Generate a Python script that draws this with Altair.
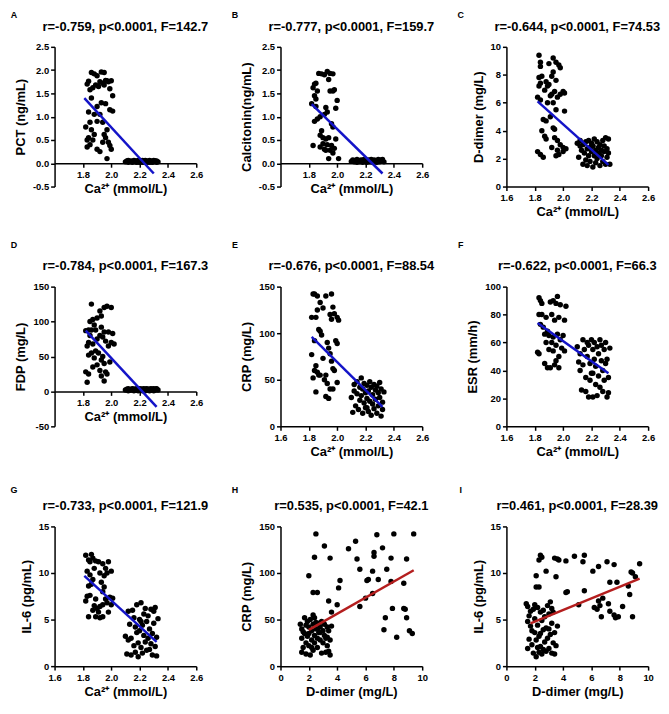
import altair as alt
import pandas as pd

FONT = "Liberation Sans"

# ---------------- data ----------------
CTRL_CA = [2.10, 2.11, 2.12, 2.12, 2.13, 2.14, 2.14, 2.15, 2.16, 2.16, 2.17, 2.17, 2.18, 2.18, 2.19,
           2.19, 2.20, 2.20, 2.21, 2.21, 2.22, 2.22, 2.23, 2.23, 2.24, 2.24, 2.25, 2.25, 2.26, 2.26,
           2.27, 2.27, 2.28, 2.28, 2.29, 2.29, 2.30, 2.30, 2.31, 2.31, 2.32, 2.32, 2.33, 2.21]

A_PAT = [(1.86, 1.95), (1.88, 1.92), (1.90, 1.88), (1.93, 1.96), (1.95, 1.95), (1.97, 1.77), (1.98, 1.75),
         (2.00, 1.77), (1.92, 1.75), (1.94, 1.72), (1.96, 1.78), (1.89, 1.68), (1.91, 1.65), (1.84, 1.76),
         (1.83, 1.70), (1.85, 1.58), (1.87, 1.62), (1.99, 1.60), (2.01, 1.45), (1.95, 1.68), (1.86, 1.40),
         (1.84, 1.10), (1.93, 1.30), (1.96, 1.28), (1.99, 1.15), (2.01, 1.12), (1.90, 1.22), (1.92, 1.05),
         (1.88, 1.05), (1.85, 0.88), (1.94, 0.88), (1.90, 0.90), (1.97, 0.72), (1.82, 0.78), (1.86, 0.72),
         (1.88, 0.62), (1.84, 0.55), (1.83, 0.50), (1.87, 0.50), (1.95, 0.62), (1.96, 0.55), (1.85, 0.40),
         (1.83, 0.35), (1.98, 0.45), (1.99, 0.38), (2.00, 0.30), (1.90, 0.30), (1.92, 0.25), (1.97, 0.10),
         (1.94, 0.45)]
A_CTRL_Y = [0.03, 0.05, 0.02, 0.06, 0.04, 0.03, 0.05, 0.02, 0.04, 0.06, 0.03, 0.05, 0.02, 0.04, 0.06,
            0.03, 0.05, 0.02, 0.04, 0.03, 0.06, 0.02, 0.05, 0.03, 0.04, 0.06, 0.02, 0.05, 0.03, 0.04,
            0.02, 0.06, 0.03, 0.05, 0.04, 0.02, 0.06, 0.03, 0.05, 0.04, 0.02, 0.05, 0.03, 0.04]
A_LINE_X = [1.81, 2.30]
A_LINE_Y = [1.40, -0.22]

B_PAT = [(1.87, 1.93), (1.89, 1.92), (1.91, 1.90), (1.93, 1.97), (1.95, 1.93), (1.97, 1.92), (1.84, 1.70),
         (1.85, 1.72), (1.83, 1.62), (1.86, 1.55), (1.94, 1.80), (1.95, 1.55), (1.97, 1.55), (1.98, 1.58),
         (1.84, 1.45), (1.85, 1.38), (2.00, 1.35), (1.82, 1.28), (1.85, 1.22), (1.92, 1.20), (1.99, 1.18),
         (1.91, 1.05), (1.93, 1.10), (1.88, 1.00), (1.84, 0.90), (1.86, 0.95), (1.96, 0.85), (1.97, 0.78),
         (1.89, 0.70), (1.90, 0.55), (1.88, 0.60), (1.92, 0.52), (1.94, 0.55), (1.99, 0.52), (1.90, 0.42),
         (1.88, 0.35), (1.93, 0.40), (1.96, 0.38), (1.98, 0.32), (1.92, 0.28), (1.95, 0.28), (1.97, 0.22),
         (1.83, 0.38), (1.94, 0.10), (2.01, 0.10), (1.91, 0.30)]
B_CTRL_Y = [0.04, 0.07, 0.03, 0.06, 0.05, 0.02, 0.08, 0.04, 0.06, 0.03, 0.05, 0.07, 0.02, 0.06, 0.04,
            0.08, 0.03, 0.05, 0.06, 0.02, 0.07, 0.04, 0.05, 0.03, 0.08, 0.06, 0.02, 0.05, 0.04, 0.07,
            0.03, 0.06, 0.05, 0.02, 0.08, 0.04, 0.06, 0.03, 0.07, 0.05, 0.04, 0.08, 0.03, 0.06]
B_LINE_X = [1.82, 2.32]
B_LINE_Y = [1.27, -0.22]

C_PAT = [(1.83, 9.4), (1.84, 8.9), (1.84, 8.6), (1.90, 8.8), (1.93, 9.2), (1.95, 8.9), (1.97, 8.7),
         (1.98, 8.5), (1.83, 7.8), (1.85, 7.9), (1.84, 7.4), (1.83, 7.2), (1.88, 7.5), (1.89, 7.2),
         (1.90, 7.3), (1.92, 7.9), (1.93, 8.2), (1.95, 7.6), (1.87, 6.9), (1.91, 6.5), (1.92, 6.6),
         (1.94, 6.8), (1.96, 6.4), (1.98, 6.6), (2.00, 6.8), (2.01, 6.7), (1.82, 6.4), (1.84, 6.2),
         (1.89, 6.0), (1.93, 6.0), (1.95, 5.5), (2.01, 5.4), (1.86, 4.8), (1.88, 4.7), (1.91, 5.0),
         (1.85, 4.0), (1.93, 4.2), (1.94, 4.1), (1.87, 3.6), (1.88, 3.4), (1.94, 3.5), (1.96, 3.3),
         (1.98, 3.0), (2.00, 2.8), (1.92, 2.8), (1.96, 2.6), (1.82, 2.5), (1.84, 2.3), (1.86, 2.1),
         (1.95, 2.2), (1.97, 2.3), (2.00, 2.5), (2.02, 2.7)]
C_CTRL_Y = [3.1, 2.1, 2.9, 3.3, 2.6, 1.6, 3.0, 2.4, 1.9, 3.2, 2.7, 1.5, 2.2, 3.3, 2.8, 1.8, 2.5, 3.1, 1.4,
            2.9, 2.2, 3.4, 2.6, 1.7, 2.0, 3.2, 2.8, 2.4, 1.5, 3.0, 2.6, 2.2, 3.3, 1.8, 2.9, 2.5, 1.6, 3.5,
            2.7, 2.1, 3.4, 2.4, 1.6, 2.9]
C_LINE_X = [1.82, 2.32]
C_LINE_Y = [6.1, 1.55]

D_PAT = [(1.86, 125), (1.95, 120), (1.97, 122), (2.00, 120), (1.92, 115), (1.90, 105), (1.87, 103),
         (1.85, 100), (1.93, 108), (1.88, 95), (1.82, 87), (1.84, 88), (1.86, 88), (1.89, 88), (1.93, 92),
         (1.95, 85), (1.98, 85), (2.01, 83), (1.92, 80), (1.85, 80), (1.90, 75), (1.94, 78), (1.84, 70),
         (1.83, 65), (1.87, 68), (1.96, 72), (2.00, 70), (2.02, 68), (1.98, 65), (1.89, 58), (1.86, 55),
         (1.84, 52), (1.91, 55), (1.94, 50), (1.95, 40), (1.93, 45), (1.88, 48), (1.90, 38), (1.87, 35),
         (1.92, 30), (1.96, 28), (1.82, 28), (1.84, 25), (1.93, 22), (1.97, 25), (1.95, 15), (1.83, 13),
         (1.99, 42)]
D_CTRL_Y = [2, 3, 1, 4, 2, 3, 2, 4, 1, 3, 2, 3, 4, 2, 1, 3, 2, 4, 3, 2, 1, 3, 4, 2, 3, 1, 2, 4, 3, 2,
            3, 1, 4, 2, 3, 2, 4, 1, 3, 2, 4, 3, 2, 3]
D_LINE_X = [1.82, 2.32]
D_LINE_Y = [87, -22]

E_PAT = [(1.83, 142), (1.84, 142), (1.86, 140), (1.92, 140), (1.96, 142), (1.88, 133), (1.90, 127),
         (1.86, 125), (1.97, 128), (1.98, 121), (1.95, 120), (1.82, 117), (1.85, 117), (1.96, 115),
         (2.00, 117), (2.01, 114), (1.87, 104), (1.88, 102), (1.89, 98), (1.84, 92), (1.93, 90), (1.99, 92),
         (2.00, 89), (1.94, 84), (1.90, 73), (1.95, 78), (1.96, 70), (1.82, 77), (1.85, 65), (1.84, 60),
         (1.86, 58), (1.87, 55), (1.83, 52), (1.88, 55), (1.92, 55), (1.97, 62), (1.98, 60), (1.91, 50),
         (1.93, 46), (1.95, 40), (1.97, 40), (2.00, 47), (1.85, 37), (1.92, 32), (1.94, 30)]
E_CTRL_Y = [31, 15, 45, 38, 22, 48, 35, 18, 42, 28, 52, 33, 14, 40, 25, 46, 36, 20, 44, 30, 16, 38, 27,
            48, 42, 12, 34, 24, 45, 19, 39, 29, 14, 43, 36, 22, 47, 31, 11, 40, 26, 18, 37, 20]
E_LINE_X = [1.82, 2.32]
E_LINE_Y = [96, 21]

F_PAT = [(1.83, 92), (1.84, 90), (1.85, 88), (1.93, 90), (1.96, 93), (1.98, 87), (2.02, 86), (1.95, 88),
         (1.91, 89), (1.83, 80), (1.85, 80), (1.88, 78), (1.92, 80), (1.94, 76), (1.97, 78), (2.01, 76),
         (1.84, 73), (1.86, 71), (1.89, 68), (1.87, 66), (1.90, 65), (1.93, 64), (1.96, 66), (1.98, 62),
         (2.00, 65), (1.88, 60), (1.92, 60), (1.95, 58), (1.99, 56), (2.01, 54), (1.90, 55), (1.93, 54),
         (1.82, 53), (1.83, 52), (1.97, 50), (1.95, 47), (1.87, 45), (1.89, 42), (1.91, 42), (1.94, 44),
         (1.97, 42)]
F_CTRL_Y = [57, 46, 40, 52, 26, 62, 44, 55, 35, 25, 60, 50, 21, 58, 45, 33, 62, 38, 55, 21, 48, 60, 30,
            43, 57, 22, 52, 36, 62, 28, 47, 58, 40, 25, 55, 33, 60, 45, 21, 48, 35, 24, 56, 38]
F_LINE_X = [1.82, 2.32]
F_LINE_Y = [74, 38]

G_PAT = [(1.82, 11.9), (1.84, 11.4), (1.86, 12.0), (1.85, 11.2), (1.87, 11.6), (1.89, 11.3), (1.91, 11.2),
         (1.94, 11.0), (1.96, 10.5), (1.98, 11.2), (2.00, 10.2), (1.88, 10.5), (1.83, 10.2), (1.85, 9.8),
         (1.92, 10.0), (1.95, 9.7), (1.97, 10.0), (1.87, 9.3), (1.84, 8.6), (1.86, 8.8), (1.93, 9.0),
         (1.95, 8.5), (1.83, 7.5), (1.82, 7.0), (1.85, 7.6), (1.89, 7.2), (1.94, 8.0), (1.96, 7.2),
         (1.99, 7.4), (2.01, 7.3), (1.88, 6.5), (1.90, 6.2), (1.92, 6.4), (1.94, 6.6), (1.97, 6.8),
         (1.87, 6.0), (1.91, 5.8), (1.98, 5.8), (2.00, 6.6), (1.84, 5.3), (1.89, 5.3), (1.92, 5.2),
         (1.94, 5.3)]
G_CTRL_Y = [3.2, 1.3, 5.9, 2.8, 4.5, 1.2, 3.0, 6.0, 2.2, 5.2, 1.5, 4.2, 3.6, 6.6, 2.5, 1.0, 5.0, 3.8, 6.8,
            2.0, 4.4, 1.4, 5.6, 3.3, 2.6, 6.2, 1.7, 4.8, 3.0, 5.4, 1.8, 4.0, 6.1, 2.4, 3.5, 1.2, 5.9, 4.6,
            2.1, 6.3, 3.1, 1.1, 5.1, 4.8]
G_LINE_X = [1.81, 2.32]
G_LINE_Y = [9.7, 2.6]

H_PTS = [(2.5, 142), (3.1, 129), (2.4, 117), (3.5, 116), (2.0, 97), (2.3, 79), (2.6, 79), (4.2, 92),
         (4.1, 84), (3.4, 70), (4.0, 66), (3.6, 58), (4.8, 126), (5.3, 134), (5.4, 115), (5.6, 104),
         (6.1, 92), (6.2, 93), (6.5, 102), (6.6, 122), (6.6, 118), (6.8, 141), (6.9, 93), (7.2, 127),
         (7.5, 104), (7.8, 116), (8.0, 142), (7.8, 91), (8.7, 89), (8.9, 115), (9.4, 142), (6.0, 73),
         (6.5, 78), (5.6, 64), (7.9, 62), (8.7, 62), (8.8, 61), (7.4, 52), (8.9, 52), (7.3, 39), (9.1, 38),
         (9.3, 35), (8.2, 31),
         (1.4, 45), (1.5, 40), (1.5, 30), (1.6, 20), (1.5, 15), (1.7, 52), (1.7, 35), (1.8, 25), (1.8, 13),
         (1.9, 48), (1.9, 32), (2.0, 42), (2.0, 22), (2.1, 50), (2.1, 12), (2.2, 38), (2.2, 28), (2.3, 55),
         (2.3, 45), (2.3, 17), (2.4, 33), (2.4, 25), (2.5, 47), (2.5, 40), (2.6, 30), (2.6, 20), (2.7, 46),
         (2.7, 36), (2.8, 42), (2.8, 28), (2.9, 48), (2.9, 14), (3.0, 38), (3.0, 25), (3.1, 45), (3.1, 33),
         (3.2, 30), (3.2, 15), (3.3, 42), (3.3, 22), (3.4, 38), (3.4, 16), (3.5, 12), (3.6, 43), (3.5, 28),
         (2.0, 35), (2.6, 40), (3.0, 47), (1.6, 37), (2.2, 20), (2.8, 36), (3.3, 31), (1.8, 44), (2.4, 52)]
H_LINE_X = [2.0, 9.4]
H_LINE_Y = [39, 103]

I_PTS = [(2.4, 11.9), (2.5, 11.7), (2.3, 11.4), (2.8, 10.2), (3.4, 11.6), (3.6, 11.5), (3.7, 11.4),
         (4.2, 11.3), (4.8, 11.8), (5.5, 11.9), (5.4, 11.2), (2.1, 9.7), (2.1, 8.5), (2.3, 8.5), (3.5, 9.6),
         (4.2, 7.9), (4.3, 8.0), (5.5, 8.1), (5.1, 6.6), (6.1, 10.2), (6.5, 10.7), (7.1, 11.2), (7.6, 10.9),
         (8.8, 10.1), (8.9, 10.0), (9.4, 11.0), (9.1, 9.6), (7.3, 9.0), (7.8, 9.0), (8.7, 7.7), (8.6, 8.6),
         (6.8, 7.3), (6.5, 7.0), (6.2, 6.3), (6.4, 6.1), (6.6, 6.5), (7.2, 6.7), (7.3, 5.9), (7.7, 5.2),
         (7.9, 5.3), (6.7, 5.3), (8.2, 6.4), (8.9, 5.3), (7.6, 5.5),
         (1.4, 6.7), (1.5, 6.4), (1.5, 4.8), (1.6, 2.9), (1.5, 1.9), (1.7, 5.9), (1.7, 4.3), (1.8, 2.3),
         (1.9, 1.4), (1.9, 6.1), (2.0, 5.1), (2.0, 3.6), (2.1, 1.0), (2.1, 2.8), (2.2, 6.3), (2.2, 4.4),
         (2.3, 1.5), (2.3, 3.2), (2.4, 5.8), (2.4, 2.1), (2.5, 4.9), (2.5, 1.3), (2.6, 3.9), (2.6, 6.0),
         (2.7, 2.6), (2.7, 5.3), (2.8, 1.6), (2.8, 4.1), (2.9, 6.5), (2.9, 3.0), (3.0, 1.9), (3.0, 5.6),
         (3.1, 6.9), (3.1, 3.4), (3.2, 1.4), (3.2, 4.6), (3.3, 2.5), (3.3, 5.8), (3.4, 3.6), (3.4, 1.3),
         (3.5, 2.2), (3.6, 4.3), (1.8, 3.8), (2.2, 2.0), (2.6, 1.8), (3.0, 4.0), (2.4, 3.5), (1.6, 5.4),
         (2.0, 6.6), (3.2, 6.2)]
I_LINE_X = [1.7, 9.4]
I_LINE_Y = [4.6, 9.4]

CA_TITLE = "Ca\u00b2\u207a (mmol/L)"
CA_TICKS_NEG = [1.8, 2.0, 2.2, 2.4, 2.6]
CA_TICKS = [1.6, 1.8, 2.0, 2.2, 2.4, 2.6]
DD_TICKS = [0, 2, 4, 6, 8, 10]

BLUE = "#1414c8"
RED = "#b41e1e"

W, H = 143, 141


def panel(letter, title, pts, line_x, line_y, xdom, ydom, xvals, yvals, xfmt, yfmt,
          xtitle, ytitle, color, ldx, ldy, tdy):
    off = -H * (-ydom[0]) / (ydom[1] - ydom[0]) if ydom[0] < 0 else 0
    df = pd.DataFrame(pts, columns=["x", "y"])
    xenc = alt.X("x:Q", scale=alt.Scale(domain=xdom, nice=False, zero=False),
                 axis=alt.Axis(values=xvals, tickCount=len(xvals), title=xtitle, offset=off,
                               labelOverlap=False, labelFlush=False,
                               labelExpr=f"replace(format(datum.value, '{xfmt}'), '\u2212', '-')"))
    yenc = alt.Y("y:Q", scale=alt.Scale(domain=ydom, nice=False, zero=False),
                 axis=alt.Axis(values=yvals, tickCount=len(yvals), title=ytitle,
                               labelOverlap=False, labelFlush=False,
                               labelExpr=f"replace(format(datum.value, '{yfmt}'), '\u2212', '-')"))
    p = alt.Chart(df).mark_circle(size=30, color="black", opacity=1).encode(x=xenc, y=yenc)
    ln = alt.Chart(pd.DataFrame({"x": line_x, "y": line_y})).mark_line(
        color=color, strokeWidth=2.5).encode(x="x:Q", y="y:Q")
    lab = alt.Chart(pd.DataFrame({"t": [letter]})).mark_text(
        font=FONT, fontSize=9, fontWeight="bold", align="center", baseline="middle", color="black"
    ).encode(text="t:N", x=alt.value(ldx), y=alt.value(ldy))
    ttl = alt.Chart(pd.DataFrame({"t": [title]})).mark_text(
        font=FONT, fontSize=13, fontWeight="bold", align="center", baseline="middle", color="black"
    ).encode(text="t:N", x=alt.value(W / 2), y=alt.value(tdy))
    return alt.layer(p, ln, lab, ttl).properties(width=W, height=H)


def ctrl(ys):
    return list(zip(CTRL_CA, ys))


pA = panel("A", "r=-0.759, p<0.0001, F=142.7", A_PAT + ctrl(A_CTRL_Y), A_LINE_X, A_LINE_Y,
           [1.6, 2.6], [-0.5, 2.5], CA_TICKS_NEG, [-0.5, 0, 0.5, 1.0, 1.5, 2.0, 2.5], ".1f", ".1f",
           CA_TITLE, "PCT (ng/mL)", BLUE, -41, -32, -20)
pB = panel("B", "r=-0.777, p<0.0001, F=159.7", B_PAT + ctrl(B_CTRL_Y), B_LINE_X, B_LINE_Y,
           [1.6, 2.6], [-0.5, 2.5], CA_TICKS_NEG, [-0.5, 0, 0.5, 1.0, 1.5, 2.0, 2.5], ".1f", ".1f",
           CA_TITLE, "Calcitonin(ng/mL)", BLUE, -46, -32, -20)
pC = panel("C", "r=-0.644, p<0.0001, F=74.53", C_PAT + ctrl(C_CTRL_Y), C_LINE_X, C_LINE_Y,
           [1.6, 2.6], [0, 10], CA_TICKS, [0, 2, 4, 6, 8, 10], ".1f", "d",
           CA_TITLE, "D-dimer (mg/L)", BLUE, -46, -32, -20)
pD = panel("D", "r=-0.784, p<0.0001, F=167.3", D_PAT + ctrl(D_CTRL_Y), D_LINE_X, D_LINE_Y,
           [1.6, 2.6], [-50, 150], CA_TICKS_NEG, [-50, 0, 50, 100, 150], ".1f", "d",
           CA_TITLE, "FDP (mg/L)", BLUE, -41, -42, -21)
pE = panel("E", "r=-0.676, p<0.0001, F=88.54", E_PAT + ctrl(E_CTRL_Y), E_LINE_X, E_LINE_Y,
           [1.6, 2.6], [0, 150], CA_TICKS, [0, 50, 100, 150], ".1f", "d",
           CA_TITLE, "CRP (mg/L)", BLUE, -46, -42, -21)
pF = panel("F", "r=-0.622, p<0.0001, F=66.3", F_PAT + ctrl(F_CTRL_Y), F_LINE_X, F_LINE_Y,
           [1.6, 2.6], [0, 100], CA_TICKS, [0, 20, 40, 60, 80, 100], ".1f", "d",
           CA_TITLE, "ESR (mm/h)", BLUE, -46, -42, -21)
pG = panel("G", "r=-0.733, p<0.0001, F=121.9", G_PAT + ctrl(G_CTRL_Y), G_LINE_X, G_LINE_Y,
           [1.6, 2.6], [0, 15], CA_TICKS, [0, 5, 10, 15], ".1f", "d",
           CA_TITLE, "IL-6 (pg/mL)", BLUE, -41, -37, -21)
pH = panel("H", "r=0.535, p<0.0001, F=42.1", H_PTS, H_LINE_X, H_LINE_Y,
           [0, 10], [0, 150], DD_TICKS, [0, 50, 100, 150], "d", "d",
           "D-dimer (mg/L)", "CRP (mg/L)", RED, -46, -37, -21)
pI = panel("I", "r=0.461, p<0.0001, F=28.39", I_PTS, I_LINE_X, I_LINE_Y,
           [0, 10], [0, 15], DD_TICKS, [0, 5, 10, 15], "d", "d",
           "D-dimer (mg/L)", "IL-6 (pg/mL)", RED, -46, -37, -21)

chart = alt.concat(pA, pB, pC, pD, pE, pF, pG, pH, pI, columns=3,
                   spacing={"row": 101, "column": 85}, bounds="flush").configure_axis(
    grid=False,
    domainColor="black", domainWidth=1.5,
    tickColor="black", tickWidth=1.5, tickSize=4,
    labelFont=FONT, labelFontSize=9.5, labelFontWeight="bold", labelColor="black", labelPadding=2,
    labelOverlap=False, labelFlush=False,
    titleFont=FONT, titleFontSize=13, titleFontWeight="bold", titleColor="black",
).configure_axisX(titlePadding=4).configure_axisY(titlePadding=5).configure_view(
    strokeWidth=0
).properties(padding={"left": 2, "top": 0, "right": 0, "bottom": 0}, background="white")

chart.save("out.html", embed_options={"renderer": "svg", "actions": False})
